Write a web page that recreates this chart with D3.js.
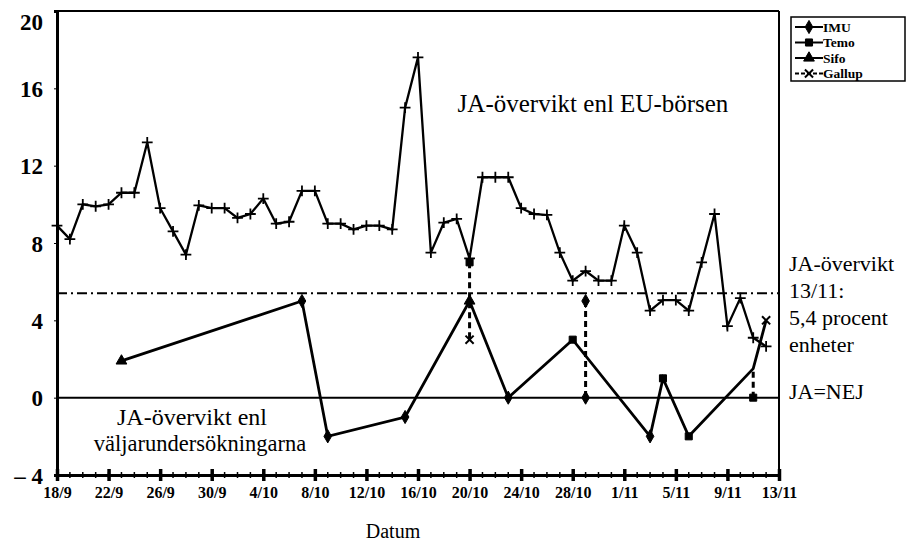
<!DOCTYPE html>
<html>
<head>
<meta charset="utf-8">
<script src="https://cdn.jsdelivr.net/npm/d3@7"></script>
<style>
  body { margin: 0; background: #fff; }
  text { font-family: "Liberation Serif", "Times New Roman", serif; fill: #000; }
</style>
</head>
<body>
<script>
// EU-börsen, one value per day from 18/9
var startDate = "1994-09-18";
var endDate = "1994-11-13";
var euValues = [8.9, 8.2, 10.0, 9.9, 10.0, 10.6, 10.6, 13.2, 9.8, 8.6,
                7.4, 9.95, 9.8, 9.8, 9.3, 9.5, 10.3, 9.0, 9.1, 10.7,
                10.7, 9.0, 9.0, 8.7, 8.9, 8.9, 8.7, 15.0, 17.6, 7.5,
                9.05, 9.25, 7.2, 11.4, 11.4, 11.4, 9.8, 9.5, 9.45, 7.5,
                6.05, 6.55, 6.05, 6.05, 8.9, 7.5, 4.5, 5.05, 5.05, 4.5,
                7.0, 9.5, 3.7, 5.15, 3.1, 2.65];

// opinion polls (the solid line)
var pollDates = ["1994-09-23", "1994-10-07", "1994-10-09", "1994-10-15", "1994-10-20", "1994-10-23",
                 "1994-10-28", "1994-11-03", "1994-11-04", "1994-11-06", "1994-11-11", "1994-11-12"];
var pollValues = [1.9, 5.0, -2.0, -1.0, 5.0, 0.0, 3.0, -2.0, 1.0, -2.0, 1.5, 4.0];
var pollInst = ["Sifo", "IMU", "IMU", "IMU", "Sifo", "IMU", "Temo", "IMU", "Temo", "Temo", "", "Gallup"];

// other polls on the same day (joined by dashed lines)
var extraDates = ["1994-10-20", "1994-10-20", "1994-10-29", "1994-10-29", "1994-11-11"];
var extraValues = [7.0, 3.0, 5.0, 0.0, 0.0];
var extraInst = ["Temo", "Gallup", "IMU", "IMU", "Temo"];
var linkDates = ["1994-10-20", "1994-10-29", "1994-11-11"];
var linkFrom = [7.0, 5.0, 0.0];
var linkTo = [3.0, 0.0, 1.5];

var threshold = 5.4;
var yTicks = [-4, 0, 4, 8, 12, 16, 20];
var institutes = ["IMU", "Temo", "Sifo", "Gallup"];

var W = 912, H = 545;
var parse = d3.timeParse("%Y-%m-%d");
var t0 = parse(startDate), t1 = parse(endDate);

var svg = d3.select("body").append("svg")
    .attr("width", W)
    .attr("height", H);

var x = d3.scaleTime().domain([t0, t1]).range([57, 779]);
var y = d3.scaleLinear().domain([-4, 20]).range([475, 11]);

// frame
svg.append("line").attr("x1", x(t0)).attr("x2", x(t1)).attr("y1", y(20)).attr("y2", y(20))
  .attr("stroke", "#000").attr("stroke-width", 2);
svg.append("line").attr("x1", x(t1)).attr("x2", x(t1)).attr("y1", y(20)).attr("y2", y(-4))
  .attr("stroke", "#000").attr("stroke-width", 2);

// y axis
var yAxis = svg.append("g")
    .attr("transform", "translate(" + x(t0) + ",0)")
    .call(d3.axisLeft(y).tickValues(yTicks).tickSize(3).tickPadding(11)
      .tickFormat(function(d){ return d < 0 ? "\u2013 " + (-d) : d; }));
yAxis.select(".domain").attr("stroke-width", 3);
yAxis.selectAll("text")
    .style("font-size", "23px").style("font-weight", "bold")
    .attr("dy", function(d){ return d === 20 ? "0.8em" : "0.35em"; });

// x axis: daily minor ticks, 4-day major ticks with labels
var days = d3.timeDay.range(t0, d3.timeDay.offset(t1, 1));
var majors = d3.timeDay.range(t0, d3.timeDay.offset(t1, 1), 4);

svg.append("g").selectAll("line").data(days).enter().append("line")
    .attr("x1", function(d){ return x(d); }).attr("x2", function(d){ return x(d); })
    .attr("y1", y(-4) - 3).attr("y2", y(-4) + 3)
    .attr("stroke", "#000").attr("stroke-width", 1.5);

var xAxis = svg.append("g")
    .attr("transform", "translate(0," + y(-4) + ")")
    .call(d3.axisBottom(x).tickValues(majors).tickSize(0).tickPadding(12)
      .tickFormat(d3.timeFormat("%-d/%-m")));
xAxis.select(".domain").attr("stroke-width", 3);
xAxis.selectAll("text").style("font-size", "16px").style("font-weight", "bold");
xAxis.selectAll(".tick").append("line")
    .attr("y1", -6).attr("y2", 6)
    .attr("stroke", "#000").attr("stroke-width", 3.5);

// reference lines
svg.append("line")
    .attr("x1", x(t0)).attr("x2", x(t1)).attr("y1", y(0)).attr("y2", y(0))
    .attr("stroke", "#000").attr("stroke-width", 2);
svg.append("line")
    .attr("x1", x(t0)).attr("x2", x(t1)).attr("y1", y(threshold)).attr("y2", y(threshold))
    .attr("stroke", "#000").attr("stroke-width", 2)
    .attr("stroke-dasharray", "10,4,2,4");

// EU-börsen line
var euData = euValues.map(function(v, i){ return { date: d3.timeDay.offset(t0, i), value: v }; });
var line = d3.line().x(function(d){ return x(d.date); }).y(function(d){ return y(d.value); });

svg.append("path").datum(euData)
    .attr("d", line)
    .attr("fill", "none").attr("stroke", "#000").attr("stroke-width", 2.3)
    .attr("stroke-linejoin", "miter");
svg.append("g").selectAll("path").data(euData).enter().append("path")
    .attr("transform", function(d){ return "translate(" + x(d.date) + "," + y(d.value) + ")"; })
    .attr("d", d3.symbol(d3.symbolPlus, 40))
    .attr("fill", "none").attr("stroke", "#000").attr("stroke-width", 1.8);

// dashed links between polls on the same day
svg.append("g").selectAll("line").data(linkDates).enter().append("line")
    .attr("x1", function(d){ return x(parse(d)); }).attr("x2", function(d){ return x(parse(d)); })
    .attr("y1", function(d, i){ return y(linkFrom[i]); })
    .attr("y2", function(d, i){ return y(linkTo[i]); })
    .attr("stroke", "#000").attr("stroke-width", 3)
    .attr("stroke-dasharray", "6,4");

// poll line
var pollData = pollDates.map(function(d, i){ return { date: parse(d), value: pollValues[i], inst: pollInst[i] }; });
svg.append("path").datum(pollData)
    .attr("d", line)
    .attr("fill", "none").attr("stroke", "#000").attr("stroke-width", 2.8);

function marker(sel, inst) {
  var types = { IMU: d3.symbolDiamond, Temo: d3.symbolSquare, Sifo: d3.symbolTriangle, Gallup: d3.symbolTimes };
  sel.attr("d", function(d){ var k = inst(d); return k ? d3.symbol(types[k], k === "Gallup" ? 45 : 50)() : null; })
     .attr("fill", function(d){ return inst(d) === "Gallup" ? "none" : "#000"; })
     .attr("stroke", "#000")
     .attr("stroke-width", function(d){ return inst(d) === "Gallup" ? 2 : 1; });
}

var extraData = extraDates.map(function(d, i){ return { date: parse(d), value: extraValues[i], inst: extraInst[i] }; });
svg.append("g").selectAll("path").data(pollData.concat(extraData)).enter().append("path")
    .attr("transform", function(d){ return "translate(" + x(d.date) + "," + y(d.value) + ")"; })
    .call(marker, function(d){ return d.inst; });

// labels inside the plot
svg.append("text").attr("x", 593).attr("y", 112)
    .attr("text-anchor", "middle").style("font-size", "25px")
    .text("JA-övervikt enl EU-börsen");
svg.append("text").attr("x", 192).attr("y", 425)
    .attr("text-anchor", "middle").style("font-size", "24px")
    .text("JA-övervikt enl");
svg.append("text").attr("x", 200).attr("y", 451)
    .attr("text-anchor", "middle").style("font-size", "22.5px")
    .text("väljarundersökningarna");

// right-hand notes
var notes = ["JA-övervikt", "13/11:", "5,4 procent", "enheter"];
svg.append("g").selectAll("text").data(notes).enter().append("text")
    .attr("x", 789).attr("y", function(d, i){ return 271 + i * 27; })
    .style("font-size", "22px")
    .text(function(d){ return d; });
svg.append("text").attr("x", 789).attr("y", 399).style("font-size", "22px").text("JA=NEJ");

// axis title
svg.append("text").attr("x", 393).attr("y", 538)
    .attr("text-anchor", "middle").style("font-size", "20px")
    .text("Datum");

// legend
var lg = svg.append("g").attr("transform", "translate(791,17)");
lg.append("rect").attr("width", 114).attr("height", 64)
    .attr("fill", "#fff").attr("stroke", "#000").attr("stroke-width", 1.5);
var items = lg.selectAll("g").data(institutes).enter().append("g")
    .attr("transform", function(d, i){ return "translate(0," + (10 + i * 15.5) + ")"; });
items.append("line").attr("x1", 4).attr("x2", 32)
    .attr("stroke", "#000").attr("stroke-width", 2)
    .attr("stroke-dasharray", function(d){ return d === "Gallup" ? "4,2" : null; });
items.append("path").attr("transform", "translate(18,0)")
    .call(marker, function(d){ return d; });
items.append("text").attr("x", 32).attr("dy", "0.35em")
    .style("font-size", "13.5px").style("font-weight", "bold")
    .text(function(d){ return d; });
</script>
</body>
</html>
